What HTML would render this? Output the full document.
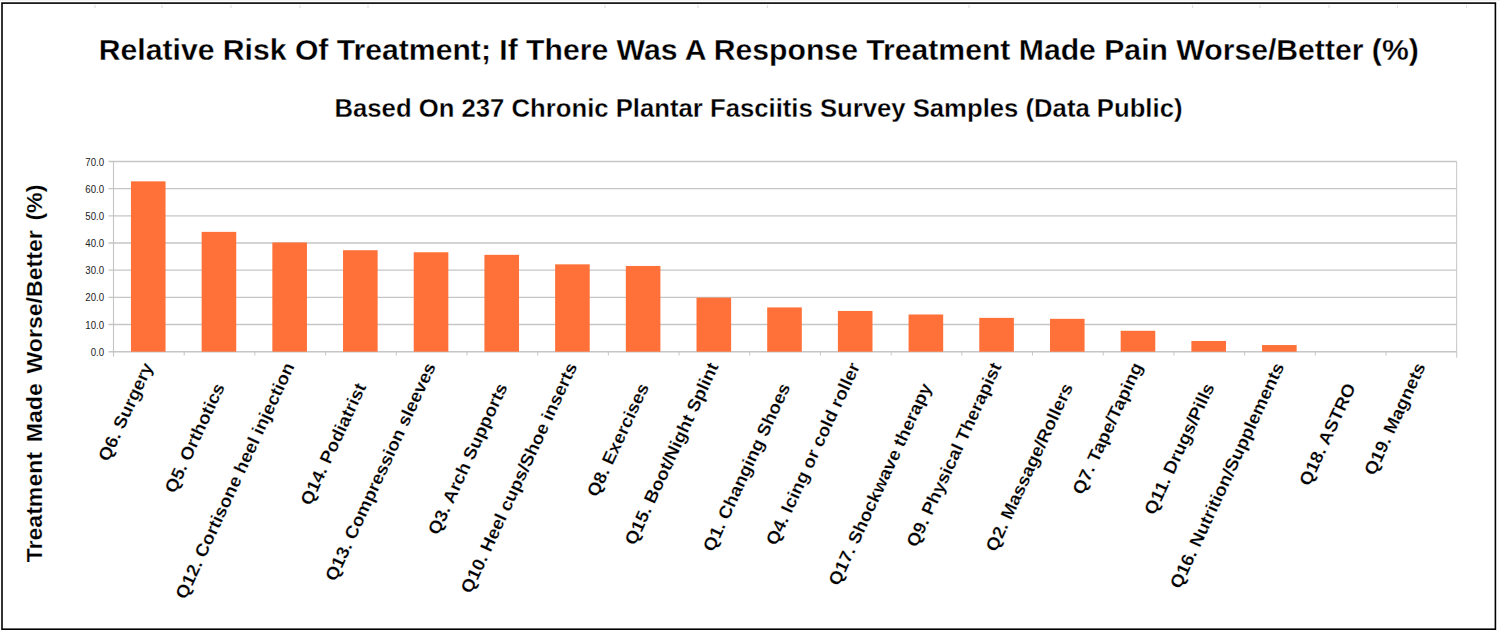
<!DOCTYPE html>
<html><head><meta charset="utf-8"><style>
html,body{margin:0;padding:0;background:#fff;}
body{width:1500px;height:635px;overflow:hidden;position:relative;font-family:"Liberation Sans",sans-serif;}
svg{position:absolute;left:0;top:0;}
svg text{font-family:"Liberation Sans",sans-serif;}
svg text.b{stroke:#fff;stroke-width:0.18px;}
svg text.t{stroke:#fff;stroke-width:0.3px;}
</style></head><body>
<svg width="1500" height="635" viewBox="0 0 1500 635">
<rect x="0" y="0" width="1500" height="1" fill="#f3f3f3"/>
<rect x="94.4" y="5" width="1.2" height="3" fill="#e0e0e0"/><rect x="161.4" y="5" width="1.2" height="3" fill="#e0e0e0"/><rect x="230.4" y="5" width="1.2" height="3" fill="#e0e0e0"/><rect x="299.4" y="5" width="1.2" height="3" fill="#e0e0e0"/><rect x="367.4" y="5" width="1.2" height="3" fill="#e0e0e0"/><rect x="604.4" y="5" width="1.2" height="3" fill="#e0e0e0"/><rect x="697.4" y="5" width="1.2" height="3" fill="#e0e0e0"/><rect x="766.9" y="5" width="1.2" height="3" fill="#e0e0e0"/><rect x="968.4" y="5" width="1.2" height="3" fill="#e0e0e0"/><rect x="1191.9" y="5" width="1.2" height="3" fill="#e0e0e0"/><rect x="1259.4" y="5" width="1.2" height="3" fill="#e0e0e0"/><rect x="1328.4" y="5" width="1.2" height="3" fill="#e0e0e0"/><rect x="1396.9" y="5" width="1.2" height="3" fill="#e0e0e0"/><rect x="1465.9" y="5" width="1.2" height="3" fill="#e0e0e0"/>
<rect x="2.0" y="3.1" width="1493.4" height="626.1" fill="none" stroke="#000" stroke-width="1.6"/>
<text x="758.75" y="60" font-size="30.17" font-weight="bold" class="t" text-anchor="middle">Relative Risk Of Treatment; If There Was A Response Treatment Made Pain Worse/Better (%)</text>
<text x="758.5" y="116.6" font-size="25.7" font-weight="bold" class="t" text-anchor="middle">Based On 237 Chronic Plantar Fasciitis Survey Samples (Data Public)</text>
<text x="0" y="0" font-size="21.5" font-weight="bold" class="b" text-anchor="middle" word-spacing="3" transform="translate(42.4 373.5) rotate(-90) scale(1.075 1)">Treatment Made Worse/Better (%)</text>
<line x1="108.50" y1="351.70" x2="1456.70" y2="351.70" stroke="#c6c6c6" stroke-width="1.35"/>
<text x="0" y="0" font-size="11" text-anchor="end" fill="#222" transform="translate(104.2 355.70) scale(0.88 1)">0.0</text>
<line x1="108.50" y1="324.53" x2="1456.70" y2="324.53" stroke="#c6c6c6" stroke-width="1.35"/>
<text x="0" y="0" font-size="11" text-anchor="end" fill="#222" transform="translate(104.2 328.53) scale(0.88 1)">10.0</text>
<line x1="108.50" y1="297.36" x2="1456.70" y2="297.36" stroke="#c6c6c6" stroke-width="1.35"/>
<text x="0" y="0" font-size="11" text-anchor="end" fill="#222" transform="translate(104.2 301.36) scale(0.88 1)">20.0</text>
<line x1="108.50" y1="270.19" x2="1456.70" y2="270.19" stroke="#c6c6c6" stroke-width="1.35"/>
<text x="0" y="0" font-size="11" text-anchor="end" fill="#222" transform="translate(104.2 274.19) scale(0.88 1)">30.0</text>
<line x1="108.50" y1="243.01" x2="1456.70" y2="243.01" stroke="#c6c6c6" stroke-width="1.35"/>
<text x="0" y="0" font-size="11" text-anchor="end" fill="#222" transform="translate(104.2 247.01) scale(0.88 1)">40.0</text>
<line x1="108.50" y1="215.84" x2="1456.70" y2="215.84" stroke="#c6c6c6" stroke-width="1.35"/>
<text x="0" y="0" font-size="11" text-anchor="end" fill="#222" transform="translate(104.2 219.84) scale(0.88 1)">50.0</text>
<line x1="108.50" y1="188.67" x2="1456.70" y2="188.67" stroke="#c6c6c6" stroke-width="1.35"/>
<text x="0" y="0" font-size="11" text-anchor="end" fill="#222" transform="translate(104.2 192.67) scale(0.88 1)">60.0</text>
<line x1="108.50" y1="161.50" x2="1456.70" y2="161.50" stroke="#c6c6c6" stroke-width="1.35"/>
<text x="0" y="0" font-size="11" text-anchor="end" fill="#222" transform="translate(104.2 165.50) scale(0.88 1)">70.0</text>
<line x1="113.50" y1="161.50" x2="113.50" y2="356.50" stroke="#c4c4c4" stroke-width="1.1"/>
<line x1="1456.70" y1="161.50" x2="1456.70" y2="357.70" stroke="#c6c6c6" stroke-width="1"/>
<line x1="184.19" y1="351.70" x2="184.19" y2="355.50" stroke="#c6c6c6" stroke-width="1"/>
<line x1="254.89" y1="351.70" x2="254.89" y2="355.50" stroke="#c6c6c6" stroke-width="1"/>
<line x1="325.58" y1="351.70" x2="325.58" y2="355.50" stroke="#c6c6c6" stroke-width="1"/>
<line x1="396.28" y1="351.70" x2="396.28" y2="355.50" stroke="#c6c6c6" stroke-width="1"/>
<line x1="466.97" y1="351.70" x2="466.97" y2="355.50" stroke="#c6c6c6" stroke-width="1"/>
<line x1="537.67" y1="351.70" x2="537.67" y2="355.50" stroke="#c6c6c6" stroke-width="1"/>
<line x1="608.36" y1="351.70" x2="608.36" y2="355.50" stroke="#c6c6c6" stroke-width="1"/>
<line x1="679.06" y1="351.70" x2="679.06" y2="355.50" stroke="#c6c6c6" stroke-width="1"/>
<line x1="749.75" y1="351.70" x2="749.75" y2="355.50" stroke="#c6c6c6" stroke-width="1"/>
<line x1="820.45" y1="351.70" x2="820.45" y2="355.50" stroke="#c6c6c6" stroke-width="1"/>
<line x1="891.14" y1="351.70" x2="891.14" y2="355.50" stroke="#c6c6c6" stroke-width="1"/>
<line x1="961.84" y1="351.70" x2="961.84" y2="355.50" stroke="#c6c6c6" stroke-width="1"/>
<line x1="1032.53" y1="351.70" x2="1032.53" y2="355.50" stroke="#c6c6c6" stroke-width="1"/>
<line x1="1103.23" y1="351.70" x2="1103.23" y2="355.50" stroke="#c6c6c6" stroke-width="1"/>
<line x1="1173.92" y1="351.70" x2="1173.92" y2="355.50" stroke="#c6c6c6" stroke-width="1"/>
<line x1="1244.62" y1="351.70" x2="1244.62" y2="355.50" stroke="#c6c6c6" stroke-width="1"/>
<line x1="1315.31" y1="351.70" x2="1315.31" y2="355.50" stroke="#c6c6c6" stroke-width="1"/>
<line x1="1386.01" y1="351.70" x2="1386.01" y2="355.50" stroke="#c6c6c6" stroke-width="1"/>
<rect x="130.95" y="181.34" width="34.6" height="170.36" fill="#ff7139"/>
<rect x="201.64" y="231.87" width="34.6" height="119.83" fill="#ff7139"/>
<rect x="272.34" y="242.47" width="34.6" height="109.23" fill="#ff7139"/>
<rect x="343.03" y="250.21" width="34.6" height="101.49" fill="#ff7139"/>
<rect x="413.73" y="252.25" width="34.6" height="99.45" fill="#ff7139"/>
<rect x="484.42" y="254.83" width="34.6" height="96.87" fill="#ff7139"/>
<rect x="555.12" y="264.34" width="34.6" height="87.36" fill="#ff7139"/>
<rect x="625.81" y="265.97" width="34.6" height="85.73" fill="#ff7139"/>
<rect x="696.51" y="297.63" width="34.6" height="54.07" fill="#ff7139"/>
<rect x="767.20" y="307.41" width="34.6" height="44.29" fill="#ff7139"/>
<rect x="837.89" y="310.94" width="34.6" height="40.76" fill="#ff7139"/>
<rect x="908.59" y="314.48" width="34.6" height="37.22" fill="#ff7139"/>
<rect x="979.28" y="317.87" width="34.6" height="33.83" fill="#ff7139"/>
<rect x="1049.98" y="318.82" width="34.6" height="32.88" fill="#ff7139"/>
<rect x="1120.67" y="330.78" width="34.6" height="20.92" fill="#ff7139"/>
<rect x="1191.37" y="340.97" width="34.6" height="10.73" fill="#ff7139"/>
<rect x="1262.06" y="345.04" width="34.6" height="6.66" fill="#ff7139"/>
<text x="0" y="0" font-size="17.6" font-weight="bold" class="b" text-anchor="end" transform="translate(153.45 366.20) rotate(-65) scale(1.065 1)">Q6. Surgery</text>
<text x="0" y="0" font-size="17.6" font-weight="bold" class="b" text-anchor="end" transform="translate(225.14 386.70) rotate(-65) scale(1.065 1)">Q5. Orthotics</text>
<text x="0" y="0" font-size="17.6" font-weight="bold" class="b" text-anchor="end" transform="translate(294.84 366.20) rotate(-65) scale(1.065 1)">Q12. Cortisone heel injection</text>
<text x="0" y="0" font-size="17.6" font-weight="bold" class="b" text-anchor="end" transform="translate(366.53 386.70) rotate(-65) scale(1.065 1)">Q14. Podiatrist</text>
<text x="0" y="0" font-size="17.6" font-weight="bold" class="b" text-anchor="end" transform="translate(436.23 366.20) rotate(-65) scale(1.065 1)">Q13. Compression sleeves</text>
<text x="0" y="0" font-size="17.6" font-weight="bold" class="b" text-anchor="end" transform="translate(507.92 386.70) rotate(-65) scale(1.065 1)">Q3. Arch Supports</text>
<text x="0" y="0" font-size="17.6" font-weight="bold" class="b" text-anchor="end" transform="translate(577.62 366.20) rotate(-65) scale(1.065 1)">Q10. Heel cups/Shoe inserts</text>
<text x="0" y="0" font-size="17.6" font-weight="bold" class="b" text-anchor="end" transform="translate(649.31 386.70) rotate(-65) scale(1.065 1)">Q8. Exercises</text>
<text x="0" y="0" font-size="17.6" font-weight="bold" class="b" text-anchor="end" transform="translate(719.01 366.20) rotate(-65) scale(1.065 1)">Q15. Boot/Night Splint</text>
<text x="0" y="0" font-size="17.6" font-weight="bold" class="b" text-anchor="end" transform="translate(790.70 386.70) rotate(-65) scale(1.065 1)">Q1. Changing Shoes</text>
<text x="0" y="0" font-size="17.6" font-weight="bold" class="b" text-anchor="end" transform="translate(860.39 366.20) rotate(-65) scale(1.065 1)">Q4. Icing or cold roller</text>
<text x="0" y="0" font-size="17.6" font-weight="bold" class="b" text-anchor="end" transform="translate(932.09 386.70) rotate(-65) scale(1.065 1)">Q17. Shockwave therapy</text>
<text x="0" y="0" font-size="17.6" font-weight="bold" class="b" text-anchor="end" transform="translate(1001.78 366.20) rotate(-65) scale(1.065 1)">Q9. Physical Therapist</text>
<text x="0" y="0" font-size="17.6" font-weight="bold" class="b" text-anchor="end" transform="translate(1073.48 386.70) rotate(-65) scale(1.065 1)">Q2. Massage/Rollers</text>
<text x="0" y="0" font-size="17.6" font-weight="bold" class="b" text-anchor="end" transform="translate(1143.17 366.20) rotate(-65) scale(1.065 1)">Q7. Tape/Taping</text>
<text x="0" y="0" font-size="17.6" font-weight="bold" class="b" text-anchor="end" transform="translate(1214.87 386.70) rotate(-65) scale(1.065 1)">Q11. Drugs/Pills</text>
<text x="0" y="0" font-size="17.6" font-weight="bold" class="b" text-anchor="end" transform="translate(1284.56 366.20) rotate(-65) scale(1.065 1)">Q16. Nutrition/Supplements</text>
<text x="0" y="0" font-size="17.6" font-weight="bold" class="b" text-anchor="end" transform="translate(1356.26 386.70) rotate(-65) scale(1.065 1)">Q18. ASTRO</text>
<text x="0" y="0" font-size="17.6" font-weight="bold" class="b" text-anchor="end" transform="translate(1425.95 366.20) rotate(-65) scale(1.065 1)">Q19. Magnets</text>
</svg>
</body></html>
